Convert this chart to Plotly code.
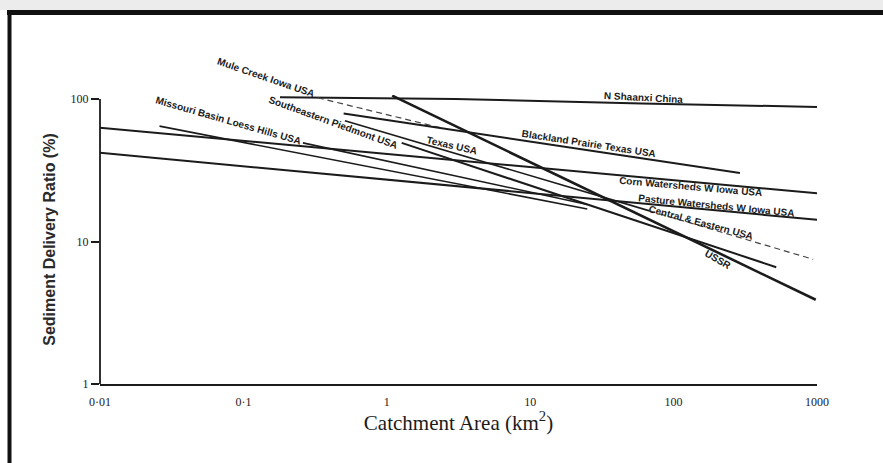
import numpy as np
import plotly.graph_objects as go

# Sediment delivery ratio (%) against catchment area (km2), end/break points of each curve
n_shaanxi_area = [0.18, 3, 60, 1000]
n_shaanxi_sdr = [103, 100, 93, 88]

mule_creek_area = [0.33, 2.5]
mule_creek_sdr = [102, 62]

ussr_area = [1.09, 980]
ussr_sdr = [105.6, 3.9]

blackland_area = [0.5, 290]
blackland_sdr = [79, 30.3]

central_eastern_area = [0.51, 68]
central_eastern_sdr = [70.3, 16.4]
central_eastern_ext_area = [68, 940]
central_eastern_ext_sdr = [16.4, 7.5]

piedmont_area = [1.27, 520]
piedmont_sdr = [49.2, 6.6]

corn_area = [0.01, 1000]
corn_sdr = [62.8, 21.8]

pasture_area = [0.01, 1000]
pasture_sdr = [41.9, 14.2]

texas_area = [0.026, 25]
texas_sdr = [64.5, 16.9]

missouri_area = [0.26, 25]
missouri_sdr = [49.2, 18.2]

# Curve labels written along the lines
label_text = [
    "Mule Creek Iowa USA", "Southeastern Piedmont USA", "Missouri Basin Loess Hills USA",
    "N Shaanxi China", "Texas USA", "Blackland Prairie Texas USA",
    "Corn Watersheds W Iowa USA", "Pasture Watersheds W Iowa USA",
    "Central & Eastern USA", "USSR",
]
label_area = [0.1445, 0.424, 0.0785, 61.2, 2.86, 25.4, 132, 198, 155, 204]
label_sdr = [142.6, 67.9, 70.2, 102.5, 46.8, 48.6, 24.5, 18.0, 13.6, 7.5]
label_angle = [19, 20, 16, 3, 13, 8.7, 5, 5.6, 15, 30]

x_ticks = [0.01, 0.1, 1, 10, 100, 1000]
x_tick_text = ["0·01", "0·1", "1", "10", "100", "1000"]
y_ticks = [1, 10, 100]
y_tick_text = ["1", "10", "100"]

W, H = 883, 463
ML, MR, MT, MB = 100, 66, 95, 79
PW, PH = W - ML - MR, H - MT - MB
Y_DECADE = 142.5
Y_TOP = PH / Y_DECADE  # log10 of the top of the y range
X_LOG_RANGE = [-2, 3]

INK = "#1b1b1b"

fig = go.Figure()


def add_curve(name, xs, ys, width=2.0, dash="solid", color=INK):
    fig.add_trace(go.Scatter(
        x=xs, y=ys, mode="lines", name=name,
        line=dict(color=color, width=width, dash=dash),
        hoverinfo="name",
    ))


add_curve("N Shaanxi China", n_shaanxi_area, n_shaanxi_sdr, 2.0)
add_curve("Mule Creek Iowa USA", mule_creek_area, mule_creek_sdr, 1.2, "6px,4px", "#444")
add_curve("USSR", ussr_area, ussr_sdr, 2.6)
add_curve("Blackland Prairie Texas USA", blackland_area, blackland_sdr, 2.0)
add_curve("Central & Eastern USA", central_eastern_area, central_eastern_sdr, 1.6)
add_curve("Central & Eastern USA (ext.)", central_eastern_ext_area, central_eastern_ext_sdr,
          1.2, "6px,4px", "#444")
add_curve("Southeastern Piedmont USA", piedmont_area, piedmont_sdr, 2.0)
add_curve("Corn Watersheds W Iowa USA", corn_area, corn_sdr, 2.0)
add_curve("Pasture Watersheds W Iowa USA", pasture_area, pasture_sdr, 2.0)
add_curve("Texas USA", texas_area, texas_sdr, 1.6)
add_curve("Missouri Basin Loess Hills USA", missouri_area, missouri_sdr, 1.6)

# labels are placed in axis-domain units so that those above 100 % are still shown
x_span = X_LOG_RANGE[1] - X_LOG_RANGE[0]
for txt, xa, ys, ang in zip(label_text, label_area, label_sdr, label_angle):
    fig.add_annotation(
        xref="x domain", yref="y domain",
        x=(np.log10(xa) - X_LOG_RANGE[0]) / x_span, y=np.log10(ys) / Y_TOP,
        text=txt, textangle=ang,
        showarrow=False, xanchor="center", yanchor="middle",
        font=dict(family="Liberation Sans", size=10, color=INK, weight="bold"),
    )


def px_x(px):
    return (px - ML) / PW


def px_y(py):
    return (H - MB - py) / PH


shapes = [
    # faint grey band along the very top
    dict(type="rect", xref="paper", yref="paper", x0=px_x(0), x1=px_x(W), y0=px_y(10), y1=px_y(0),
         line=dict(width=0), fillcolor="#ececec", layer="below"),
    # outer frame, top and left
    dict(type="line", xref="paper", yref="paper", x0=px_x(7), x1=px_x(W + 5), y0=px_y(12.5), y1=px_y(12.5),
         line=dict(color="#111", width=5)),
    dict(type="line", xref="paper", yref="paper", x0=px_x(9.5), x1=px_x(9.5), y0=px_y(10), y1=px_y(H + 5),
         line=dict(color="#111", width=4)),
    # vertical axis line from 1 to 100
    dict(type="line", xref="x domain", yref="y domain", x0=0, x1=0, y0=0, y1=2 / Y_TOP,
         line=dict(color=INK, width=1.8)),
]

fig.update_layout(
    width=W, height=H,
    margin=dict(l=ML, r=MR, t=MT, b=MB, pad=0),
    paper_bgcolor="white", plot_bgcolor="white",
    showlegend=False,
    shapes=shapes,
    xaxis=dict(
        type="log", range=X_LOG_RANGE, showgrid=False, zeroline=False,
        showline=True, linecolor=INK, linewidth=2.2,
        tickvals=x_ticks, ticktext=x_tick_text, ticks="",
        ticklabelstandoff=5,
        tickfont=dict(family="Liberation Serif", size=12, color=INK),
        title=dict(text="Catchment Area (km<sup>2</sup>)", standoff=5,
                   font=dict(family="Liberation Serif", size=21, color=INK)),
    ),
    yaxis=dict(
        type="log", range=[0, Y_TOP], showgrid=False, zeroline=False, showline=False,
        tickvals=y_ticks, ticktext=y_tick_text, ticks="outside", ticklen=8,
        tickwidth=1.5, tickcolor=INK,
        tickfont=dict(family="Liberation Serif", size=12, color=INK),
        title=dict(text="Sediment Delivery Ratio (%)", standoff=10,
                   font=dict(family="Liberation Sans", size=16, color="#2a2a2a", weight="bold")),
    ),
)

fig.write_html("out.html")
